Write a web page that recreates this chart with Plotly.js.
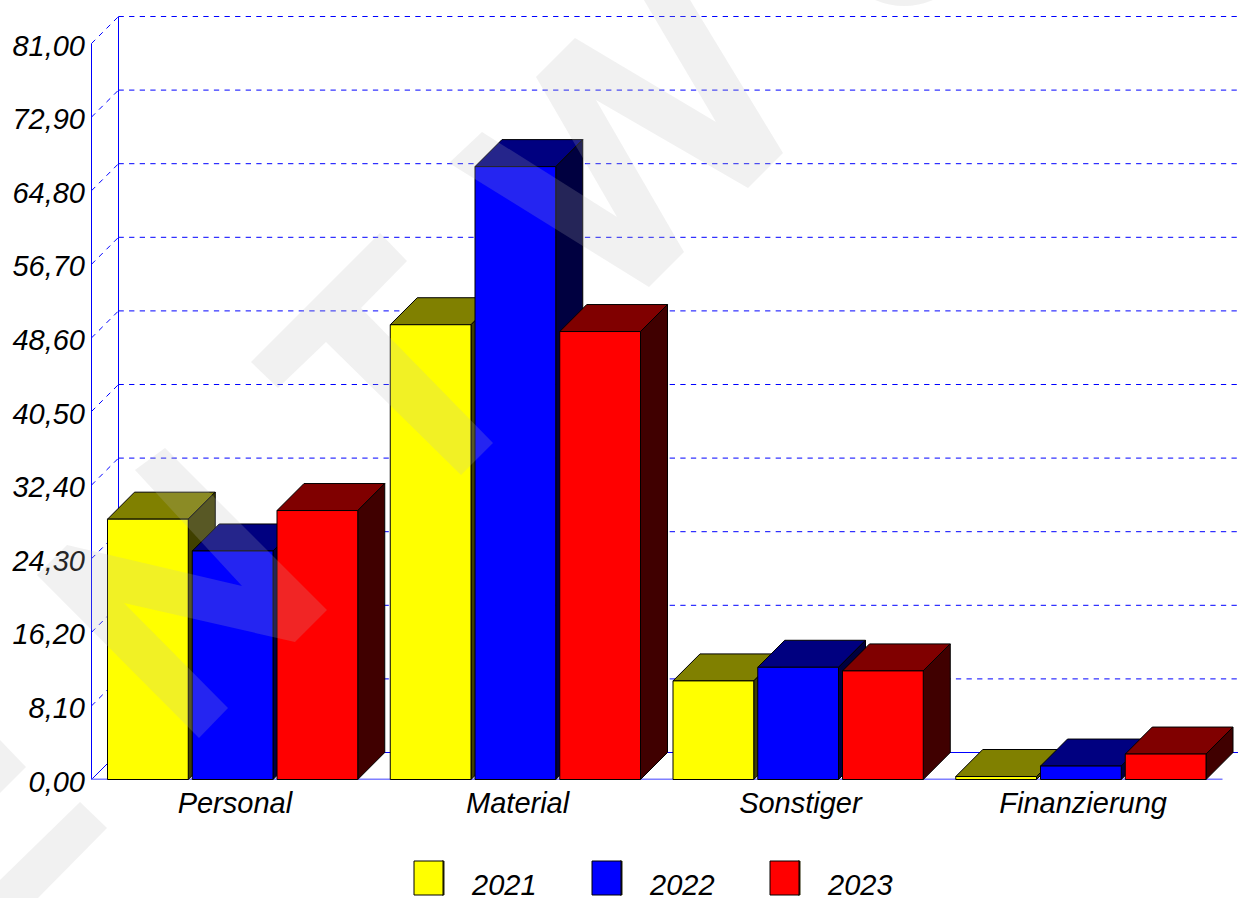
<!DOCTYPE html>
<html><head><meta charset="utf-8">
<script src="https://cdn.plot.ly/plotly-3.0.1.min.js"></script>
<style>html,body{margin:0;padding:0;background:#fff}#chart{width:1238px;height:898px}</style>
</head><body><div id="chart"></div>
<script>
// ---- data ----
const categories = ["Personal", "Material", "Sonstiger", "Finanzierung"];
const years = ["2021", "2022", "2023"];
const values2021 = [28.65, 50.05, 10.85, 0.33];
const values2022 = [25.15, 67.45, 12.35, 1.48];
const values2023 = [29.6, 49.3, 11.95, 2.8];
const yTicks = [0, 8.1, 16.2, 24.3, 32.4, 40.5, 48.6, 56.7, 64.8, 72.9, 81];
const yTickLabels = ["0,00","8,10","16,20","24,30","32,40","40,50","48,60","56,70","64,80","72,90","81,00"];
const seriesValues = [values2021, values2022, values2023];
const frontColors = ["#ffff00", "#0000ff", "#ff0000"];
const topColors = ["#808000", "#000080", "#800000"];
const sideColors = ["#404000", "#000040", "#400000"];

// ---- plot geometry ----
const W = 1238, H = 898, L = 91, ZEROX = 91.5, BOTTOM = 780, ZERO = 779.5, TOP = 10;
const catPx = 282.75, unitPx = 73.6 / 8.1, depthPx = 27;
const dx = depthPx / catPx, dy = depthPx / unitPx;
const barLeft = 16 / catPx, barStep = 84.75 / catPx, barWidth = 80.75 / catPx;
const xMin = (L - ZEROX) / catPx, xMax = (W - ZEROX) / catPx;
const yMin = (ZERO - BOTTOM) / unitPx, yMax = (ZERO - TOP) / unitPx;
const plotW = W - L, plotH = BOTTOM - TOP;
const px = x => (x - L) / plotW, py = y => (BOTTOM - y) / plotH;

const traces = [];
function line(xs, ys, color, width, dash) {
  traces.push({type: "scatter", mode: "lines", x: xs, y: ys, hoverinfo: "skip", showlegend: false,
    line: {color, width, dash: dash || "solid", simplify: false}});
}
function face(xs, ys, color) {
  traces.push({type: "scatter", mode: "lines", x: xs, y: ys, fill: "toself", fillcolor: color,
    hoverinfo: "skip", showlegend: false, line: {color: "#000000", width: 1, simplify: false}});
}
const dashed = "5.3px,5.3px";
// back wall, floor and front axis
yTicks.forEach((v, i) => {
  if (i > 0) {
    line([dx, xMax], [v + dy, v + dy], "#0000ff", 1, dashed);
    line([0, dx], [v, v + dy], "#0000ff", 1, dashed);
  }
});
line([dx, xMax], [dy, dy], "#0000ff", 1);
line([0, dx], [0, dy], "#0000ff", 1);
line([dx, dx], [dy, 81 + dy], "#0000ff", 1);
line([0, 0], [0, 81], "#0000ff", 1);
line([0, categories.length], [0, 0], "#7f7fff", 2);

// bars: each series paints over the previous one
seriesValues.forEach((vals, s) => {
  vals.forEach((v, c) => {
    const x0 = c + barLeft + s * barStep, x1 = x0 + barWidth;
    face([x0, x1, x1 + dx, x0 + dx, x0], [v, v, v + dy, v + dy, v], topColors[s]);
    face([x1, x1 + dx, x1 + dx, x1, x1], [0, dy, v + dy, v, 0], sideColors[s]);
    face([x0, x1, x1, x0, x0], [0, 0, v, v, 0], frontColors[s]);
  });
});

// ---- watermark, in page pixels ----
const wmPolys = [
  [[37,575],[67,545],[242,586],[135,470],[165,448],[327,610],[295,642],[124,603],[228,708],[199,738]],
  [[380,233],[407,261],[361,308],[493,443],[461,475],[326,342],[278,388],[251,362]],
  [[449,163],[482,132],[617,217],[536,77],[575,38],[716,122],[638,-10],[684,-10],[783,153],[748,188],[596,100],[684,252],[649,287]],
  [[80,802],[107,828],[38,898],[0,898],[0,880]],
  [[0,740],[26,767],[0,793]]
];
const wm = "rgba(185,185,185,0.2)";
const shapes = wmPolys.map(p => ({
  type: "path", xref: "paper", yref: "paper", layer: "above", fillcolor: wm, line: {width: 0},
  path: p.map((q, i) => (i ? "L" : "M") + px(q[0]).toFixed(5) + "," + py(q[1]).toFixed(5)).join(" ") + " Z"
}));
shapes.push({type: "path", xref: "paper", yref: "paper", layer: "above", fillcolor: wm, line: {width: 0},
  path: `M${px(875)},${py(0)} Q${px(904)},${py(12)} ${px(933)},${py(0)} Z`});

// ---- legend ----
const legendX = [414, 592, 770];
const annotations = [];
const textFont = {family: "Liberation Sans, Arial, sans-serif", size: 29, style: "italic", color: "#000000"};
years.forEach((yr, i) => {
  const x = legendX[i];
  shapes.push({type: "rect", xref: "paper", yref: "paper", layer: "above", x0: px(x + 28), x1: px(x + 30), y0: py(895), y1: py(861),
    fillcolor: sideColors[i], line: {color: "#222200", width: 1}});
  shapes.push({type: "rect", xref: "paper", yref: "paper", layer: "above", x0: px(x), x1: px(x + 29), y0: py(895), y1: py(861),
    fillcolor: frontColors[i], line: {color: "#000000", width: 1}});
  annotations.push({xref: "paper", yref: "paper", x: px(x + 56), y: py(884.5), xanchor: "left", yanchor: "middle",
    text: yr, showarrow: false, borderpad: 0, font: textFont});
});

const layout = {
  width: W, height: H, autosize: false, showlegend: false,
  paper_bgcolor: "#ffffff", plot_bgcolor: "#ffffff",
  margin: {l: L, r: 0, t: TOP, b: H - BOTTOM, pad: 0},
  xaxis: {range: [xMin, xMax], tickmode: "array", tickvals: categories.map((_, i) => i + 0.5 + 2 / catPx), ticktext: categories,
    showgrid: false, zeroline: false, showline: false, ticks: "", ticklabelstandoff: 3,
    tickfont: textFont, fixedrange: true},
  yaxis: {range: [yMin, yMax], tickmode: "array", tickvals: yTicks, ticktext: yTickLabels,
    showgrid: false, zeroline: false, showline: false, ticks: "", ticklabelstandoff: 5, ticklabelshift: 2,
    tickfont: textFont, fixedrange: true},
  shapes, annotations
};
Plotly.newPlot("chart", traces, layout, {displayModeBar: false, staticPlot: true});
</script></body></html>
